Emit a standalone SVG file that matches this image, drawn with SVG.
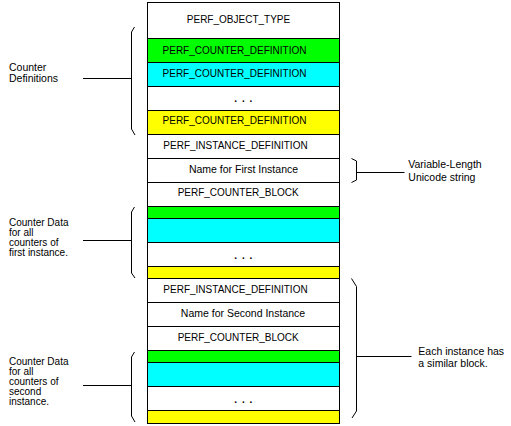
<svg xmlns="http://www.w3.org/2000/svg" width="511" height="426" viewBox="0 0 511 426">
<style>
  .box { stroke: #000; stroke-width: 1; }
  .w { fill: #fff; }
  .g { fill: #00ff00; }
  .c { fill: #00ffff; }
  .y { fill: #ffff00; }
  .caps { font-family: "Liberation Sans", Arial, sans-serif; font-size: 10px; fill: #000; text-anchor: middle; }
  .txt { font-family: "Liberation Sans", Arial, sans-serif; font-size: 10.5px; fill: #000; }
  .sm { font-size: 10px; }
  .mid { text-anchor: middle; }
  .dots { font-family: "Liberation Sans", Arial, sans-serif; font-size: 10px; font-weight: bold; letter-spacing: 4.8px; fill: #000; }
  .con { fill: none; stroke: #000; stroke-width: 1; }
</style>
<rect width="511" height="426" fill="#fff"/>

<g id="perf_object_type"><rect class="box w" x="147.5" y="2.5" width="192" height="36"/><text class="caps" x="238.5" y="23">PERF_OBJECT_TYPE</text></g>
<g id="counter_def_1"><rect class="box g" x="147.5" y="38.5" width="192" height="24"/><text class="caps" x="234.5" y="53.5">PERF_COUNTER_DEFINITION</text></g>
<g id="counter_def_2"><rect class="box c" x="147.5" y="62.5" width="192" height="24"/><text class="caps" x="234.5" y="77">PERF_COUNTER_DEFINITION</text></g>
<g id="counter_def_more"><rect class="box w" x="147.5" y="86.5" width="192" height="24"/><text class="dots" x="234.3" y="102">...</text></g>
<g id="counter_def_n"><rect class="box y" x="147.5" y="110.5" width="192" height="24"/><text class="caps" x="234.5" y="124">PERF_COUNTER_DEFINITION</text></g>

<g id="instance_def_1"><rect class="box w" x="147.5" y="134.5" width="192" height="24"/><text class="caps" x="235.5" y="148.5">PERF_INSTANCE_DEFINITION</text></g>
<g id="instance_name_1"><rect class="box w" x="147.5" y="158.5" width="192" height="24"/><text class="txt mid" x="243.5" y="172.7">Name for First Instance</text></g>
<g id="counter_block_1"><rect class="box w" x="147.5" y="182.5" width="192" height="24"/><text class="caps" x="238.2" y="196">PERF_COUNTER_BLOCK</text></g>
<g id="data_1_a"><rect class="box g" x="147.5" y="206.5" width="192" height="12"/></g>
<g id="data_1_b"><rect class="box c" x="147.5" y="218.5" width="192" height="24"/></g>
<g id="data_1_more"><rect class="box w" x="147.5" y="242.5" width="192" height="24"/><text class="dots" x="234.3" y="258.5">...</text></g>
<g id="data_1_n"><rect class="box y" x="147.5" y="266.5" width="192" height="12"/></g>

<g id="instance_def_2"><rect class="box w" x="147.5" y="278.5" width="192" height="24"/><text class="caps" x="235.5" y="293.3">PERF_INSTANCE_DEFINITION</text></g>
<g id="instance_name_2"><rect class="box w" x="147.5" y="302.5" width="192" height="24"/><text class="txt mid" x="243" y="316.7">Name for Second Instance</text></g>
<g id="counter_block_2"><rect class="box w" x="147.5" y="326.5" width="192" height="24"/><text class="caps" x="238.2" y="341">PERF_COUNTER_BLOCK</text></g>
<g id="data_2_a"><rect class="box g" x="147.5" y="350.5" width="192" height="12"/></g>
<g id="data_2_b"><rect class="box c" x="147.5" y="362.5" width="192" height="24"/></g>
<g id="data_2_more"><rect class="box w" x="147.5" y="386.5" width="192" height="24"/><text class="dots" x="234.3" y="402.5">...</text></g>
<g id="data_2_n"><rect class="box y" x="147.5" y="410.5" width="192" height="13"/></g>

<g id="connectors">
  <path class="con" d="M134.5,27 L131.5,32 V129 L135,135"/>
  <path class="con" d="M83,78.5 H131.5"/>
  <path class="con" d="M134.5,207 L131.5,212 V273 L135,278"/>
  <path class="con" d="M83,240.5 H131.5"/>
  <path class="con" d="M134.5,352 L131.5,357 V416 L135,422"/>
  <path class="con" d="M83,385.5 H131.5"/>
  <path class="con" d="M351.5,158.5 L356.5,161 V180 L351.5,182.5"/>
  <path class="con" d="M356.5,172.5 H404.5"/>
  <path class="con" d="M351.5,278.5 L356.5,286.5 V411 L352,418"/>
  <path class="con" d="M356.5,356.5 H411.5"/>
</g>

<g id="label_counter_definitions"><text class="txt" x="9" y="71">Counter</text><text class="txt" x="9" y="81.5">Definitions</text></g>
<g id="label_counter_data_1"><text class="txt sm" x="9" y="225.5">Counter Data</text><text class="txt sm" x="9" y="235.5">for all</text><text class="txt sm" x="9" y="245.5">counters of</text><text class="txt sm" x="9" y="255.5">first instance.</text></g>
<g id="label_counter_data_2"><text class="txt sm" x="9" y="364.5">Counter Data</text><text class="txt sm" x="9" y="374.5">for all</text><text class="txt sm" x="9" y="384.5">counters of</text><text class="txt sm" x="9" y="394.5">second</text><text class="txt sm" x="9" y="404.5">instance.</text></g>
<g id="label_variable_length"><text class="txt" x="408.3" y="168.3">Variable-Length</text><text class="txt" x="408.3" y="180.5">Unicode string</text></g>
<g id="label_each_instance"><text class="txt" x="418.3" y="355">Each instance has</text><text class="txt" x="418.3" y="366.7">a similar block.</text></g>
</svg>
